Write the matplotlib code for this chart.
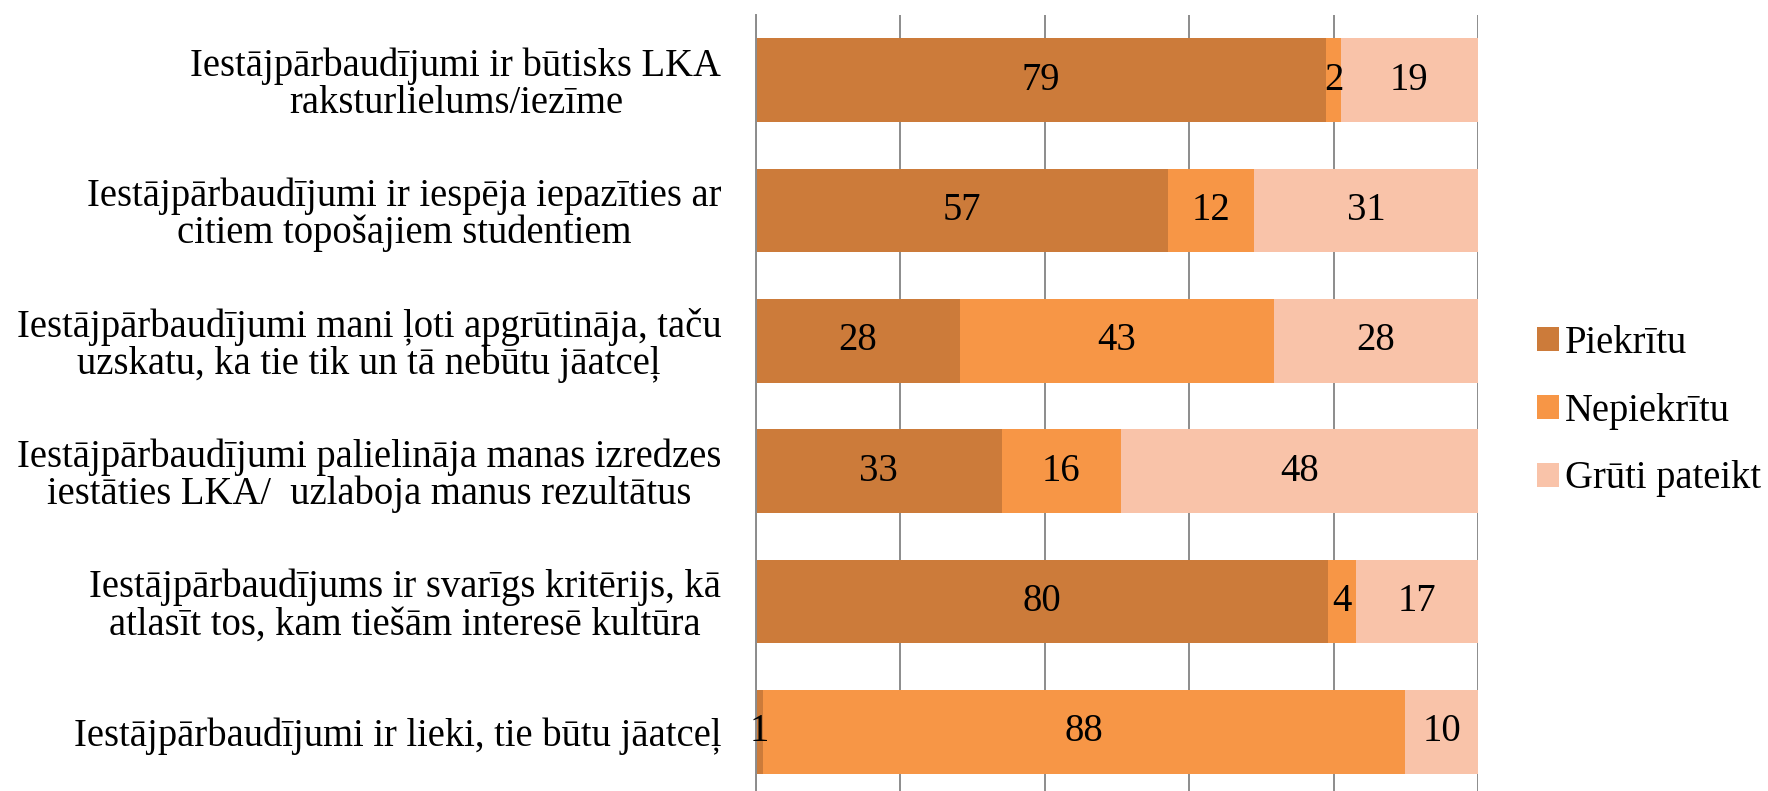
import matplotlib
matplotlib.use("Agg")
import matplotlib.pyplot as plt
import numpy as np
from matplotlib.patches import Patch

plt.rcParams['font.family'] = ['Liberation Serif', 'DejaVu Serif']

categories = [
    "Iestājpārbaudījumi ir būtisks LKA\nraksturlielums/iezīme",
    "Iestājpārbaudījumi ir iespēja iepazīties ar\ncitiem topošajiem studentiem",
    "Iestājpārbaudījumi mani ļoti apgrūtināja, taču\nuzskatu, ka tie tik un tā nebūtu jāatceļ",
    "Iestājpārbaudījumi palielināja manas izredzes\niestāties LKA/  uzlaboja manus rezultātus",
    "Iestājpārbaudījums ir svarīgs kritērijs, kā\natlasīt tos, kam tiešām interesē kultūra",
    "Iestājpārbaudījumi ir lieki, tie būtu jāatceļ",
]
series_names = ["Piekrītu", "Nepiekrītu", "Grūti pateikt"]
piekritu = [79, 57, 28, 33, 80, 1]
nepiekritu = [2, 12, 43, 16, 4, 88]
gruti = [19, 31, 28, 48, 17, 10]
colors = ["#CC7B3A", "#F79646", "#F9C3A9"]

data = np.array([piekritu, nepiekritu, gruti], dtype=float)
totals = data.sum(axis=0)
shares = data / totals * 100

W, H = 1768, 791
fig = plt.figure(figsize=(W / 100, H / 100), dpi=100)
ax = fig.add_axes([756 / W, -6 / H, (1478 - 756) / W, (797 - 15) / H])

y = np.arange(len(categories))
left = np.zeros(len(categories))
fs = 27.8
for i, (name, col) in enumerate(zip(series_names, colors)):
    bars = ax.barh(y, shares[i], left=left, height=0.64, color=col,
                   edgecolor='none', label=name, zorder=2)
    ax.bar_label(bars, labels=[str(v) for v in data[i].astype(int)],
                 label_type='center', fontsize=fs, color='black')
    left += shares[i]

ax.set_xlim(0, 100)
ax.set_ylim(len(categories) - 0.5, -0.5)
ax.set_xticks([0, 20, 40, 60, 80, 100])
ax.set_xticklabels([])
ax.tick_params(axis='x', length=0)
ax.grid(axis='x', color='#8C8C8C', linewidth=1.4, zorder=0)
ax.set_axisbelow(True)
for s in ['top', 'right', 'bottom']:
    ax.spines[s].set_visible(False)
ax.spines['left'].set_color('#8C8C8C')
ax.spines['left'].set_linewidth(1.4)

ax.set_yticks(y)
ax.set_yticklabels(categories, fontsize=fs, ha='right', multialignment='center',
                   linespacing=1.0)
ax.tick_params(axis='y', length=0, pad=25)

handles = [Patch(facecolor=c, edgecolor='none') for c in colors]
fig.legend(handles, series_names, loc='center left',
           bbox_to_anchor=(1537 / W, 1 - 411 / H), frameon=False,
           fontsize=fs, handlelength=0.57, handleheight=0.57,
           handletextpad=0.15, labelspacing=0.8, borderpad=0,
           borderaxespad=0)

fig.savefig("out.png", dpi=100)
